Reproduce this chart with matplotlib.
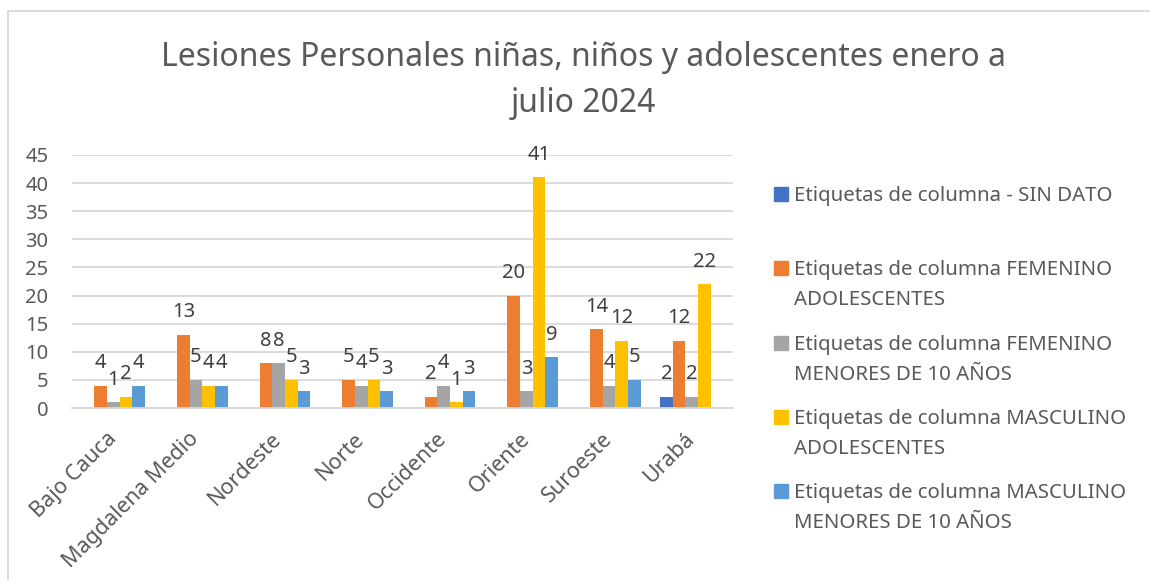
import matplotlib.pyplot as plt
import numpy as np
from matplotlib.patches import Rectangle
from matplotlib.lines import Line2D

plt.rcParams['font.family'] = ['Noto Sans', 'DejaVu Sans']

regiones = ["Bajo Cauca", "Magdalena Medio", "Nordeste", "Norte",
            "Occidente", "Oriente", "Suroeste", "Urabá"]

sin_dato = [np.nan, np.nan, np.nan, np.nan, np.nan, np.nan, np.nan, 2]
fem_adolescentes = [4, 13, 8, 5, 2, 20, 14, 12]
fem_menores = [1, 5, 8, 4, 4, 3, 4, 2]
masc_adolescentes = [2, 4, 5, 5, 1, 41, 12, 22]
masc_menores = [4, 4, 3, 3, 3, 9, 5, np.nan]

series_names = [
    ["Etiquetas de columna - SIN DATO"],
    ["Etiquetas de columna FEMENINO", "ADOLESCENTES"],
    ["Etiquetas de columna FEMENINO", "MENORES DE 10 AÑOS"],
    ["Etiquetas de columna MASCULINO", "ADOLESCENTES"],
    ["Etiquetas de columna MASCULINO", "MENORES DE 10 AÑOS"],
]
series = [sin_dato, fem_adolescentes, fem_menores, masc_adolescentes, masc_menores]
colors = ["#4472C4", "#ED7D31", "#A5A5A5", "#FFC000", "#5B9BD5"]

W, H = 1150, 580
fig = plt.figure(figsize=(W / 100, H / 100), dpi=100)
ax = fig.add_axes([72 / W, 1 - 408 / H, (733 - 72) / W, (408 - 155) / H])

x = np.arange(len(regiones))
w = 0.153
for i, (vals, c) in enumerate(zip(series, colors)):
    vals = np.array(vals, dtype=float)
    bars = ax.bar(x + (i - 2) * w, np.nan_to_num(vals), w, color=c)
    labels = ["" if np.isnan(v) else f"{int(v)}" for v in vals]
    ax.bar_label(bars, labels=labels, padding=9, fontsize=14.5, color="#404040")

ax.set_xlim(-0.5, len(regiones) - 0.5)
ax.set_ylim(0, 45)
ax.set_yticks(range(0, 46, 5))
ax.yaxis.grid(True, color="#D9D9D9", lw=1.3)
ax.set_axisbelow(True)
for s in ["top", "right", "left"]:
    ax.spines[s].set_visible(False)
ax.spines["bottom"].set_color("#D9D9D9")
ax.spines["bottom"].set_linewidth(1.3)
ax.tick_params(axis="y", length=0, pad=17, labelsize=14.5, labelcolor="#595959")
ax.tick_params(axis="x", length=0, pad=20, labelsize=15.5, labelcolor="#595959")
ax.set_xticks(x)
ax.set_xticklabels(regiones, rotation=45, ha="right", va="center",
                   rotation_mode="anchor")

title_lines = ["Lesiones Personales niñas, niños y adolescentes enero a", "julio 2024"]
for k, line in enumerate(title_lines):
    fig.text(0.507, 1 - (66 + k * 46) / H, line, ha="center", va="baseline",
             fontsize=23, color="#595959")

# legend
for i, (name, c) in enumerate(zip(series_names, colors)):
    top = 187 + i * 74.3
    fig.patches.append(Rectangle((774 / W, 1 - (top + 14) / H), 14 / W, 14 / H,
                                 transform=fig.transFigure, color=c))
    for k, line in enumerate(name):
        fig.text(794 / W, 1 - (top + 14 + k * 30) / H, line, ha="left", va="baseline",
                 fontsize=14.7, color="#595959")

# chart border
fig.lines.append(Line2D([8 / W, 1], [1 - 11 / H, 1 - 11 / H], transform=fig.transFigure,
                        color="#D9D9D9", lw=1.3))
fig.lines.append(Line2D([8 / W, 8 / W], [0, 1 - 11 / H], transform=fig.transFigure,
                        color="#D9D9D9", lw=1.3))

fig.savefig("out.png", dpi=100)
